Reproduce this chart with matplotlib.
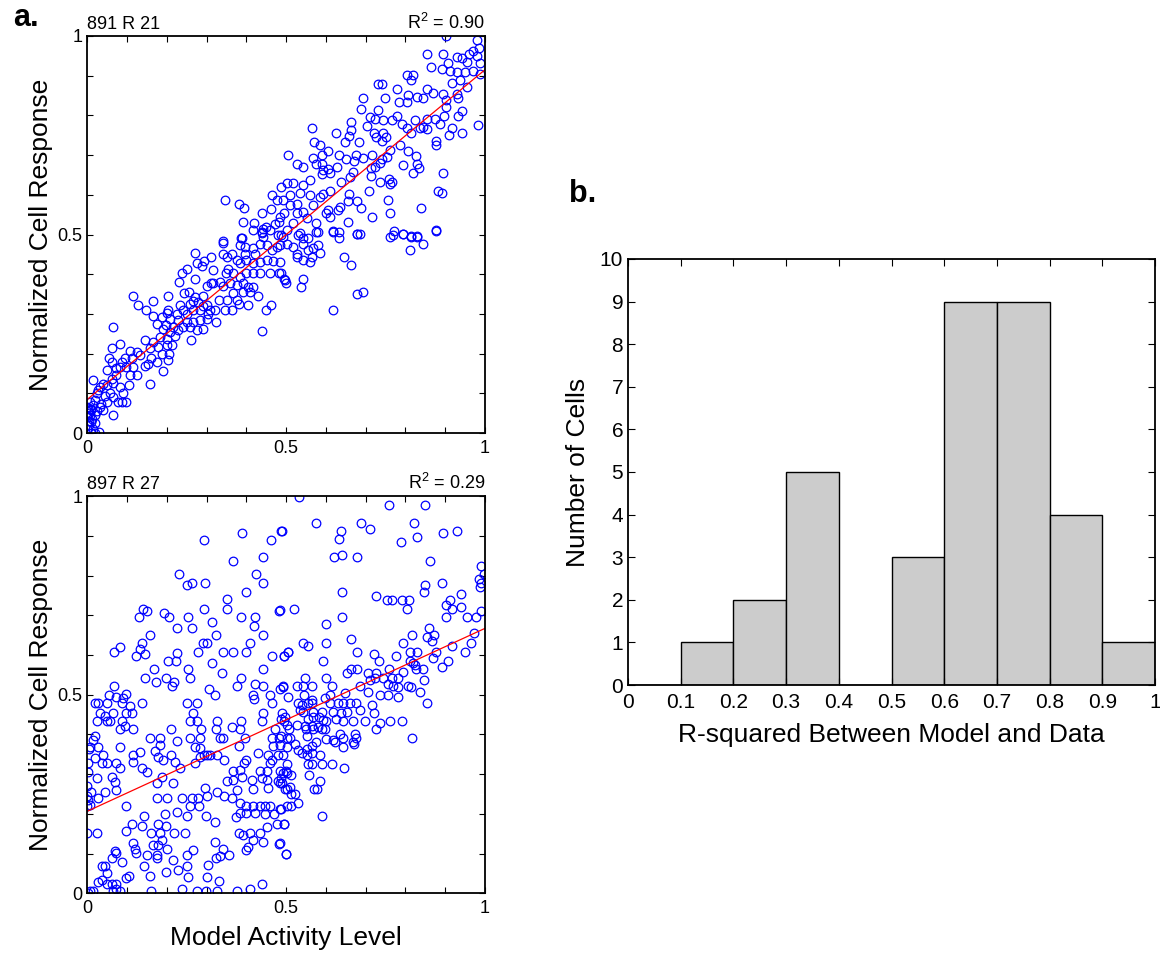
import numpy as np
import matplotlib
matplotlib.use("Agg")
import matplotlib.pyplot as plt
from matplotlib.ticker import MultipleLocator

plt.rcParams["font.family"] = ["Liberation Sans", "DejaVu Sans"]
plt.rcParams["mathtext.default"] = "regular"

# cell 891 R 21: (model activity, normalized response)
cell891_pts = [
    (0.903, 1.0), (0.979, 0.99), (0.986, 0.97), (0.969, 0.963), (0.96, 0.955), (0.979, 0.95),
    (0.929, 0.948), (0.941, 0.944), (0.954, 0.935), (0.987, 0.931), (0.969, 0.912), (0.987, 0.903),
    (0.95, 0.91), (0.929, 0.91), (0.912, 0.913), (0.893, 0.916), (0.895, 0.955), (0.853, 0.955),
    (0.863, 0.923), (0.908, 0.933), (0.954, 0.872), (0.937, 0.889), (0.916, 0.881), (0.929, 0.855),
    (0.933, 0.843), (0.895, 0.855), (0.903, 0.839), (0.87, 0.857), (0.853, 0.866), (0.843, 0.843),
    (0.828, 0.847), (0.807, 0.851), (0.803, 0.902), (0.818, 0.902), (0.815, 0.889), (0.779, 0.866),
    (0.803, 0.834), (0.784, 0.834), (0.73, 0.878), (0.74, 0.878), (0.748, 0.843), (0.692, 0.843),
    (0.687, 0.815), (0.731, 0.813), (0.903, 0.822), (0.941, 0.811), (0.933, 0.798), (0.897, 0.798),
    (0.887, 0.778), (0.874, 0.79), (0.853, 0.79), (0.845, 0.771), (0.853, 0.765), (0.836, 0.767),
    (0.824, 0.788), (0.815, 0.756), (0.803, 0.767), (0.79, 0.778), (0.778, 0.798), (0.765, 0.788),
    (0.744, 0.788), (0.723, 0.79), (0.71, 0.795), (0.704, 0.773), (0.72, 0.756), (0.727, 0.746),
    (0.751, 0.745), (0.742, 0.735), (0.744, 0.756), (0.662, 0.784), (0.663, 0.763), (0.659, 0.748),
    (0.648, 0.734), (0.625, 0.756), (0.564, 0.767), (0.57, 0.734), (0.585, 0.725), (0.606, 0.711),
    (0.591, 0.7), (0.568, 0.692), (0.505, 0.7), (0.528, 0.677), (0.541, 0.669), (0.575, 0.677),
    (0.591, 0.677), (0.593, 0.662), (0.589, 0.652), (0.606, 0.664), (0.61, 0.654), (0.628, 0.669),
    (0.633, 0.7), (0.65, 0.689), (0.675, 0.7), (0.684, 0.734), (0.67, 0.686), (0.694, 0.692),
    (0.717, 0.7), (0.74, 0.689), (0.754, 0.696), (0.761, 0.713), (0.786, 0.725), (0.807, 0.711),
    (0.826, 0.698), (0.793, 0.675), (0.83, 0.677), (0.835, 0.667), (0.818, 0.656), (0.895, 0.656),
    (0.882, 0.61), (0.893, 0.605), (0.84, 0.568), (0.918, 0.767), (0.91, 0.75), (0.941, 0.756),
    (0.983, 0.777), (0.878, 0.736), (0.878, 0.725), (0.668, 0.658), (0.712, 0.667), (0.723, 0.669),
    (0.736, 0.679), (0.712, 0.647), (0.736, 0.633), (0.759, 0.639), (0.765, 0.633), (0.762, 0.627),
    (0.709, 0.61), (0.658, 0.602), (0.656, 0.585), (0.679, 0.585), (0.689, 0.566), (0.757, 0.588),
    (0.761, 0.555), (0.715, 0.545), (0.639, 0.633), (0.66, 0.644), (0.61, 0.61), (0.593, 0.602),
    (0.585, 0.594), (0.635, 0.57), (0.631, 0.562), (0.606, 0.562), (0.6, 0.555), (0.61, 0.545),
    (0.618, 0.51), (0.633, 0.507), (0.679, 0.501), (0.771, 0.51), (0.793, 0.501), (0.813, 0.496),
    (0.828, 0.495), (0.878, 0.511), (0.656, 0.532), (0.56, 0.637), (0.543, 0.625), (0.534, 0.605),
    (0.518, 0.629), (0.501, 0.629), (0.488, 0.62), (0.568, 0.574), (0.526, 0.578), (0.509, 0.574),
    (0.492, 0.587), (0.543, 0.557), (0.526, 0.553), (0.551, 0.541), (0.518, 0.528), (0.576, 0.528),
    (0.501, 0.511), (0.534, 0.503), (0.576, 0.507), (0.484, 0.545), (0.509, 0.599), (0.56, 0.599),
    (0.488, 0.498), (0.501, 0.477), (0.518, 0.469), (0.526, 0.452), (0.526, 0.444), (0.543, 0.435),
    (0.56, 0.431), (0.564, 0.444), (0.555, 0.461), (0.568, 0.465), (0.58, 0.473), (0.585, 0.454),
    (0.541, 0.477), (0.543, 0.49), (0.53, 0.498), (0.555, 0.49), (0.58, 0.507), (0.618, 0.507),
    (0.633, 0.49), (0.646, 0.444), (0.662, 0.423), (0.677, 0.501), (0.685, 0.501), (0.761, 0.493),
    (0.769, 0.498), (0.793, 0.501), (0.813, 0.494), (0.828, 0.494), (0.811, 0.461), (0.845, 0.477),
    (0.878, 0.508), (0.484, 0.431), (0.488, 0.402), (0.497, 0.385), (0.499, 0.377), (0.543, 0.389),
    (0.537, 0.367), (0.677, 0.35), (0.692, 0.356), (0.618, 0.311),
    (0.346, 0.588), (0.382, 0.577), (0.395, 0.566), (0.392, 0.532), (0.419, 0.528), (0.438, 0.555),
    (0.461, 0.563), (0.463, 0.6), (0.476, 0.588), (0.494, 0.555), (0.483, 0.532), (0.472, 0.526),
    (0.449, 0.52), (0.441, 0.513), (0.417, 0.511), (0.438, 0.507), (0.459, 0.511), (0.385, 0.49),
    (0.342, 0.484), (0.441, 0.494),
    (0.48, 0.498), (0.493, 0.494), (0.438, 0.503), (0.388, 0.49), (0.384, 0.473), (0.396, 0.469),
    (0.396, 0.452), (0.417, 0.465), (0.421, 0.452), (0.434, 0.477), (0.451, 0.473), (0.463, 0.461),
    (0.476, 0.469), (0.484, 0.473), (0.34, 0.479), (0.342, 0.452), (0.363, 0.452), (0.35, 0.444),
    (0.27, 0.454), (0.312, 0.444), (0.293, 0.434), (0.275, 0.429), (0.287, 0.42), (0.315, 0.41),
    (0.25, 0.412), (0.237, 0.402), (0.27, 0.389), (0.23, 0.381), (0.375, 0.437), (0.384, 0.429),
    (0.4, 0.435), (0.417, 0.427), (0.434, 0.431), (0.451, 0.435), (0.467, 0.434), (0.354, 0.414),
    (0.348, 0.402), (0.367, 0.402), (0.384, 0.393), (0.4, 0.402), (0.417, 0.402), (0.434, 0.402),
    (0.459, 0.402), (0.483, 0.404), (0.494, 0.387), (0.316, 0.378), (0.3, 0.37), (0.312, 0.377),
    (0.333, 0.381), (0.342, 0.37), (0.359, 0.377), (0.375, 0.372), (0.39, 0.378), (0.405, 0.368),
    (0.417, 0.368), (0.367, 0.353), (0.392, 0.356), (0.409, 0.356), (0.43, 0.345), (0.332, 0.335),
    (0.35, 0.335), (0.375, 0.335), (0.382, 0.326), (0.405, 0.322), (0.346, 0.311), (0.363, 0.311),
    (0.449, 0.311), (0.461, 0.322), (0.438, 0.257), (0.243, 0.353), (0.256, 0.356), (0.27, 0.343),
    (0.265, 0.333), (0.279, 0.33), (0.291, 0.345), (0.29, 0.32), (0.3, 0.322), (0.308, 0.311),
    (0.321, 0.31), (0.323, 0.28), (0.304, 0.301), (0.283, 0.31), (0.266, 0.311), (0.258, 0.326),
    (0.233, 0.322), (0.241, 0.31), (0.25, 0.301), (0.224, 0.301), (0.229, 0.284), (0.25, 0.28),
    (0.266, 0.28), (0.283, 0.284), (0.3, 0.288), (0.241, 0.267), (0.258, 0.267), (0.275, 0.259),
    (0.29, 0.263), (0.26, 0.234), (0.115, 0.345), (0.128, 0.322), (0.166, 0.333), (0.203, 0.345),
    (0.203, 0.311), (0.201, 0.303), (0.147, 0.311), (0.166, 0.294), (0.187, 0.291), (0.174, 0.274),
    (0.197, 0.272), (0.207, 0.286), (0.216, 0.267), (0.229, 0.259), (0.191, 0.261), (0.207, 0.255),
    (0.22, 0.244), (0.199, 0.238), (0.182, 0.242), (0.166, 0.23), (0.145, 0.234), (0.157, 0.215),
    (0.178, 0.217), (0.199, 0.221), (0.212, 0.221), (0.206, 0.2), (0.187, 0.2), (0.161, 0.19),
    (0.174, 0.179), (0.203, 0.185), (0.189, 0.157), (0.153, 0.175), (0.145, 0.168), (0.132, 0.196),
    (0.125, 0.205), (0.107, 0.207), (0.111, 0.188), (0.115, 0.167), (0.124, 0.146), (0.107, 0.146),
    (0.098, 0.167), (0.094, 0.188), (0.086, 0.179), (0.083, 0.167), (0.065, 0.267), (0.083, 0.224),
    (0.061, 0.213), (0.055, 0.19), (0.061, 0.179), (0.072, 0.163), (0.048, 0.16), (0.073, 0.146),
    (0.061, 0.137), (0.065, 0.126), (0.082, 0.116), (0.105, 0.121), (0.157, 0.123), (0.09, 0.1),
    (0.086, 0.079), (0.098, 0.079), (0.078, 0.079), (0.065, 0.091), (0.057, 0.1), (0.048, 0.121),
    (0.04, 0.123), (0.031, 0.116), (0.027, 0.108), (0.023, 0.1), (0.015, 0.133), (0.044, 0.093),
    (0.048, 0.079), (0.033, 0.074), (0.04, 0.057), (0.031, 0.066), (0.019, 0.083), (0.015, 0.07),
    (0.065, 0.045), (0.01, 0.057), (0.002, 0.062), (0.006, 0.045), (0.0, 0.04), (0.003, 0.03),
    (0.005, 0.02), (0.0, 0.01), (0.01, 0.0), (0.004, 0.05), (0.008, 0.06), (0.012, 0.035),
    (0.02, 0.025), (0.015, 0.01), (0.02, 0.045), (0.025, 0.055), (0.0, 0.065), (0.03, 0.003),
    (0.006, 0.078), (0.02, 0.0), (0.01, 0.028),
]

# cell 897 R 27
cell897_pts = [
    (0.293, 0.889), (0.388, 0.906), (0.489, 0.912), (0.461, 0.889), (0.367, 0.836), (0.441, 0.847),
    (0.424, 0.803), (0.441, 0.782), (0.23, 0.803), (0.251, 0.776), (0.264, 0.782), (0.296, 0.782),
    (0.399, 0.759), (0.352, 0.742), (0.35, 0.716), (0.294, 0.716), (0.14, 0.716), (0.149, 0.711),
    (0.13, 0.695), (0.192, 0.705), (0.206, 0.695), (0.254, 0.695), (0.226, 0.669), (0.264, 0.669),
    (0.314, 0.684), (0.323, 0.65), (0.385, 0.695), (0.421, 0.695), (0.419, 0.673), (0.441, 0.65),
    (0.483, 0.711), (0.157, 0.65), (0.136, 0.629), (0.132, 0.614), (0.082, 0.619), (0.067, 0.608),
    (0.121, 0.597), (0.145, 0.602), (0.226, 0.604), (0.202, 0.586), (0.222, 0.586), (0.279, 0.608),
    (0.29, 0.629), (0.3, 0.629), (0.342, 0.608), (0.367, 0.608), (0.4, 0.608), (0.41, 0.629),
    (0.464, 0.597), (0.494, 0.597), (0.505, 0.608), (0.314, 0.581), (0.338, 0.554), (0.441, 0.565),
    (0.168, 0.565), (0.145, 0.543), (0.172, 0.531), (0.198, 0.543), (0.218, 0.531), (0.212, 0.522),
    (0.254, 0.565), (0.258, 0.543), (0.306, 0.514), (0.321, 0.499), (0.375, 0.522), (0.385, 0.543),
    (0.421, 0.526), (0.442, 0.522), (0.484, 0.514), (0.493, 0.52), (0.067, 0.522),
    (0.532, 0.998), (0.758, 0.977), (0.849, 0.977), (0.574, 0.933), (0.689, 0.933), (0.822, 0.933),
    (0.488, 0.912), (0.637, 0.912), (0.71, 0.917), (0.633, 0.891), (0.788, 0.885), (0.829, 0.896),
    (0.895, 0.906), (0.93, 0.912), (0.621, 0.847), (0.641, 0.851), (0.679, 0.847), (0.861, 0.836),
    (0.991, 0.825), (0.997, 0.804), (0.985, 0.79), (0.989, 0.78), (0.987, 0.77), (0.85, 0.776),
    (0.846, 0.759), (0.891, 0.78), (0.939, 0.753), (0.913, 0.738), (0.903, 0.727), (0.916, 0.716),
    (0.939, 0.722), (0.991, 0.711), (0.903, 0.695), (0.955, 0.695), (0.977, 0.695), (0.641, 0.759),
    (0.725, 0.748), (0.754, 0.738), (0.765, 0.738), (0.79, 0.738), (0.809, 0.738), (0.803, 0.716),
    (0.52, 0.716), (0.484, 0.713), (0.641, 0.695), (0.599, 0.678), (0.859, 0.667), (0.853, 0.646),
    (0.871, 0.65), (0.817, 0.65), (0.867, 0.635), (0.973, 0.656), (0.664, 0.64), (0.543, 0.629),
    (0.554, 0.623), (0.601, 0.629), (0.794, 0.629), (0.918, 0.623), (0.966, 0.629), (0.949, 0.607),
    (0.876, 0.607), (0.505, 0.607), (0.494, 0.597), (0.679, 0.607), (0.721, 0.602), (0.777, 0.597),
    (0.811, 0.607), (0.83, 0.607), (0.593, 0.586), (0.733, 0.586), (0.811, 0.586), (0.819, 0.581),
    (0.824, 0.575), (0.87, 0.592), (0.907, 0.586), (0.892, 0.571), (0.662, 0.565), (0.677, 0.565),
    (0.652, 0.554), (0.706, 0.554), (0.725, 0.554), (0.759, 0.565), (0.794, 0.558), (0.843, 0.565),
    (0.826, 0.565), (0.601, 0.543), (0.547, 0.543), (0.71, 0.537), (0.723, 0.543), (0.744, 0.543),
    (0.765, 0.543), (0.782, 0.543), (0.846, 0.537), (0.492, 0.522), (0.526, 0.522), (0.543, 0.522),
    (0.565, 0.522), (0.614, 0.522), (0.685, 0.522), (0.757, 0.526), (0.769, 0.522), (0.782, 0.52),
    (0.807, 0.522), (0.815, 0.52), (0.564, 0.488),
    (0.054, 0.5), (0.072, 0.495), (0.09, 0.491), (0.098, 0.502), (0.019, 0.478), (0.027, 0.478),
    (0.048, 0.478), (0.086, 0.478), (0.107, 0.472), (0.136, 0.478), (0.111, 0.455), (0.098, 0.455),
    (0.031, 0.455), (0.044, 0.447), (0.065, 0.455), (0.05, 0.435), (0.057, 0.435), (0.023, 0.435),
    (0.088, 0.435), (0.082, 0.413), (0.115, 0.413), (0.094, 0.421), (0.019, 0.395), (0.015, 0.386),
    (0.006, 0.369), (0.005, 0.363), (0.027, 0.369), (0.082, 0.369), (0.002, 0.327), (0.019, 0.34),
    (0.04, 0.349), (0.036, 0.327), (0.048, 0.327), (0.073, 0.327), (0.082, 0.315), (0.002, 0.306),
    (0.023, 0.29), (0.061, 0.292), (0.069, 0.281), (0.073, 0.26), (0.044, 0.256), (0.01, 0.256),
    (0.0, 0.27), (0.0, 0.244), (0.002, 0.235), (0.006, 0.223), (0.0, 0.219), (0.027, 0.239),
    (0.0, 0.151), (0.023, 0.151), (0.098, 0.219), (0.115, 0.349), (0.132, 0.357), (0.115, 0.332),
    (0.136, 0.315), (0.15, 0.305), (0.157, 0.39), (0.182, 0.39), (0.17, 0.359), (0.182, 0.374),
    (0.178, 0.344), (0.191, 0.336), (0.209, 0.349), (0.209, 0.413), (0.226, 0.384), (0.22, 0.332),
    (0.233, 0.315), (0.187, 0.292), (0.174, 0.277), (0.216, 0.277), (0.25, 0.478), (0.275, 0.478),
    (0.266, 0.455), (0.258, 0.435), (0.275, 0.435), (0.285, 0.413), (0.258, 0.392), (0.283, 0.392),
    (0.27, 0.369), (0.283, 0.365), (0.293, 0.349), (0.3, 0.349), (0.308, 0.349), (0.283, 0.344),
    (0.27, 0.327), (0.325, 0.435), (0.323, 0.413), (0.333, 0.392), (0.342, 0.392), (0.343, 0.336),
    (0.325, 0.349), (0.363, 0.418), (0.385, 0.435), (0.384, 0.413), (0.382, 0.371), (0.396, 0.392),
    (0.417, 0.5), (0.419, 0.489), (0.441, 0.455), (0.438, 0.435), (0.459, 0.5), (0.463, 0.478),
    (0.489, 0.455), (0.494, 0.435), (0.472, 0.413), (0.463, 0.392), (0.483, 0.392), (0.503, 0.392),
    (0.467, 0.371), (0.484, 0.374), (0.43, 0.353), (0.455, 0.349), (0.463, 0.336), (0.48, 0.349),
    (0.493, 0.349), (0.459, 0.327), (0.4, 0.336), (0.394, 0.327), (0.384, 0.311), (0.367, 0.307),
    (0.434, 0.307), (0.451, 0.307), (0.484, 0.307), (0.499, 0.307), (0.35, 0.284), (0.367, 0.286),
    (0.388, 0.292), (0.413, 0.286), (0.438, 0.29), (0.451, 0.286), (0.48, 0.284), (0.489, 0.277),
    (0.375, 0.26), (0.417, 0.262), (0.455, 0.265), (0.497, 0.262), (0.296, 0.265), (0.325, 0.256),
    (0.174, 0.24), (0.201, 0.24), (0.237, 0.24), (0.262, 0.24), (0.279, 0.24), (0.3, 0.245),
    (0.343, 0.245), (0.363, 0.24), (0.384, 0.227), (0.4, 0.219), (0.417, 0.219), (0.434, 0.219),
    (0.446, 0.219), (0.459, 0.219), (0.484, 0.212), (0.501, 0.219), (0.224, 0.206), (0.25, 0.195),
    (0.258, 0.219), (0.281, 0.219), (0.298, 0.195), (0.321, 0.181), (0.195, 0.2), (0.141, 0.195),
    (0.136, 0.17), (0.111, 0.175), (0.098, 0.158), (0.178, 0.175), (0.198, 0.17), (0.159, 0.151),
    (0.182, 0.151), (0.218, 0.151), (0.245, 0.151), (0.187, 0.135), (0.164, 0.122), (0.178, 0.122),
    (0.201, 0.111), (0.114, 0.128), (0.119, 0.111), (0.122, 0.103), (0.073, 0.103), (0.069, 0.108),
    (0.061, 0.088), (0.088, 0.078), (0.044, 0.068), (0.036, 0.068), (0.048, 0.051), (0.027, 0.03),
    (0.036, 0.034), (0.048, 0.023), (0.061, 0.024), (0.072, 0.024), (0.006, 0.005), (0.015, 0.005),
    (0.002, 0.0), (0.065, 0.005), (0.082, 0.005), (0.073, 0.01), (0.098, 0.038), (0.105, 0.044),
    (0.141, 0.068), (0.157, 0.044), (0.159, 0.005), (0.176, 0.088), (0.216, 0.084), (0.229, 0.059),
    (0.25, 0.068), (0.25, 0.097), (0.266, 0.109), (0.254, 0.042), (0.237, 0.01), (0.275, 0.005),
    (0.298, 0.005), (0.325, 0.005), (0.332, 0.032), (0.304, 0.072), (0.3, 0.042), (0.323, 0.088),
    (0.333, 0.093), (0.342, 0.111), (0.321, 0.13), (0.357, 0.097), (0.375, 0.005), (0.409, 0.01),
    (0.438, 0.024), (0.4, 0.109), (0.405, 0.116), (0.382, 0.151), (0.392, 0.147), (0.41, 0.151),
    (0.434, 0.151), (0.441, 0.13), (0.483, 0.125), (0.499, 0.1), (0.476, 0.175), (0.494, 0.175),
    (0.374, 0.192), (0.384, 0.202), (0.4, 0.202), (0.421, 0.202), (0.446, 0.2), (0.469, 0.2),
    (0.451, 0.166), (0.417, 0.135), (0.174, 0.097), (0.149, 0.097), (0.198, 0.055),
    (0.505, 0.495), (0.545, 0.5), (0.597, 0.491), (0.611, 0.5), (0.648, 0.504), (0.706, 0.508),
    (0.736, 0.5), (0.757, 0.5), (0.782, 0.495), (0.836, 0.508), (0.855, 0.478), (0.53, 0.478),
    (0.539, 0.474), (0.555, 0.478), (0.564, 0.478), (0.61, 0.478), (0.631, 0.478), (0.643, 0.478),
    (0.66, 0.478), (0.675, 0.478), (0.715, 0.473), (0.534, 0.462), (0.543, 0.457), (0.568, 0.457),
    (0.589, 0.457), (0.618, 0.457), (0.639, 0.455), (0.652, 0.457), (0.685, 0.462), (0.72, 0.455),
    (0.497, 0.443), (0.488, 0.438), (0.555, 0.44), (0.568, 0.445), (0.583, 0.443), (0.593, 0.437),
    (0.601, 0.435), (0.625, 0.438), (0.643, 0.435), (0.668, 0.435), (0.698, 0.435), (0.737, 0.43),
    (0.762, 0.435), (0.79, 0.435), (0.501, 0.424), (0.526, 0.424), (0.547, 0.421), (0.564, 0.421),
    (0.58, 0.42), (0.589, 0.413), (0.549, 0.413), (0.568, 0.413), (0.597, 0.413), (0.507, 0.413),
    (0.488, 0.395), (0.509, 0.39), (0.551, 0.395), (0.576, 0.38), (0.601, 0.388), (0.618, 0.386),
    (0.622, 0.38), (0.635, 0.401), (0.642, 0.39), (0.643, 0.369), (0.667, 0.382), (0.67, 0.376),
    (0.673, 0.401), (0.675, 0.39), (0.725, 0.413), (0.817, 0.39), (0.522, 0.376), (0.501, 0.369),
    (0.53, 0.361), (0.539, 0.354), (0.551, 0.363), (0.564, 0.371), (0.564, 0.354), (0.551, 0.349),
    (0.585, 0.349), (0.502, 0.326), (0.555, 0.326), (0.564, 0.326), (0.591, 0.326), (0.616, 0.326),
    (0.645, 0.315), (0.491, 0.304), (0.501, 0.304), (0.513, 0.298), (0.558, 0.298), (0.488, 0.29),
    (0.484, 0.277), (0.585, 0.284), (0.501, 0.262), (0.509, 0.267), (0.513, 0.25), (0.522, 0.25),
    (0.57, 0.262), (0.578, 0.262), (0.53, 0.227), (0.513, 0.219), (0.488, 0.213), (0.589, 0.196),
    (0.494, 0.174), (0.484, 0.126), (0.499, 0.099),
]

# linear fits (intercept, slope) and goodness of fit
fit891 = (0.085, 0.83)
fit897 = (0.207, 0.46)
r2_891 = 0.90
r2_897 = 0.29

# histogram of R-squared across cells
r2_bin_edges = [0.0, 0.1, 0.2, 0.3, 0.4, 0.5, 0.6, 0.7, 0.8, 0.9, 1.0]
r2_counts = [0, 1, 2, 5, 0, 3, 9, 9, 4, 1]

LABEL_SIZE = 19


def matlab_ticks(ax, length=4):
    ax.tick_params(which="both", direction="in", top=True, right=True,
                   length=length, width=0.8, labelsize=13)
    for s in ax.spines.values():
        s.set_linewidth(1.3)


def scatter_panel(ax, pts, fit, r2, title, xlabel=True):
    xy = np.array(pts)
    ax.plot(xy[:, 0], xy[:, 1], "o", mfc="none", mec="#0000ff", ms=6.2, mew=0.9)
    xs = np.array([0.0, 1.0])
    ax.plot(xs, fit[0] + fit[1] * xs, color="#ff0000", lw=0.9)
    ax.set_xlim(0, 1)
    ax.set_ylim(0, 1)
    ax.set_xticks([0, 0.5, 1])
    ax.set_xticklabels(["0", "0.5", "1"])
    ax.set_yticks([0, 0.5, 1])
    ax.set_yticklabels(["0", "0.5", "1"])
    ax.xaxis.set_minor_locator(MultipleLocator(0.1))
    ax.yaxis.set_minor_locator(MultipleLocator(0.1))
    matlab_ticks(ax)
    ax.tick_params(axis="x", pad=5)
    ax.set_ylabel("Normalized Cell Response", fontsize=LABEL_SIZE, labelpad=3)
    if xlabel:
        ax.set_xlabel("Model Activity Level", fontsize=LABEL_SIZE, labelpad=6)
    ax.text(0.0, 1.008, title, transform=ax.transAxes, ha="left", va="bottom", fontsize=13)
    ax.text(1.0, 1.008, "R$^2$ = {:.2f}".format(r2), transform=ax.transAxes,
            ha="right", va="bottom", fontsize=13)


fig = plt.figure(figsize=(11.6, 9.57), dpi=100)

ax1 = fig.add_axes([0.0754, 0.5475, 0.3427, 0.4149])
scatter_panel(ax1, cell891_pts, fit891, r2_891, "891 R 21", xlabel=False)

ax2 = fig.add_axes([0.0754, 0.0664, 0.3427, 0.4153])
scatter_panel(ax2, cell897_pts, fit897, r2_897, "897 R 27")

ax3 = fig.add_axes([0.5414, 0.2842, 0.4543, 0.4452])
widths = np.diff(r2_bin_edges)
ax3.bar(r2_bin_edges[:-1], r2_counts, width=widths, align="edge",
        color="#cccccc", edgecolor="black", linewidth=1.0)
ax3.set_xlim(0, 1)
ax3.set_ylim(0, 10)
ax3.set_xticks(r2_bin_edges)
ax3.set_xticklabels(["0", "0.1", "0.2", "0.3", "0.4", "0.5", "0.6", "0.7", "0.8", "0.9", "1"])
ax3.set_yticks(range(0, 11))
matlab_ticks(ax3, length=5)
ax3.tick_params(labelsize=15)
ax3.tick_params(axis="x", pad=6)
ax3.set_xlabel("R-squared Between Model and Data", fontsize=LABEL_SIZE, labelpad=8)
ax3.set_ylabel("Number of Cells", fontsize=LABEL_SIZE, labelpad=7)

fig.text(0.022, 0.981, "a.", fontsize=22, fontweight="bold", ha="center", va="center")
fig.text(0.502, 0.797, "b.", fontsize=22, fontweight="bold", ha="center", va="center")

fig.savefig("out.png", dpi=100)
